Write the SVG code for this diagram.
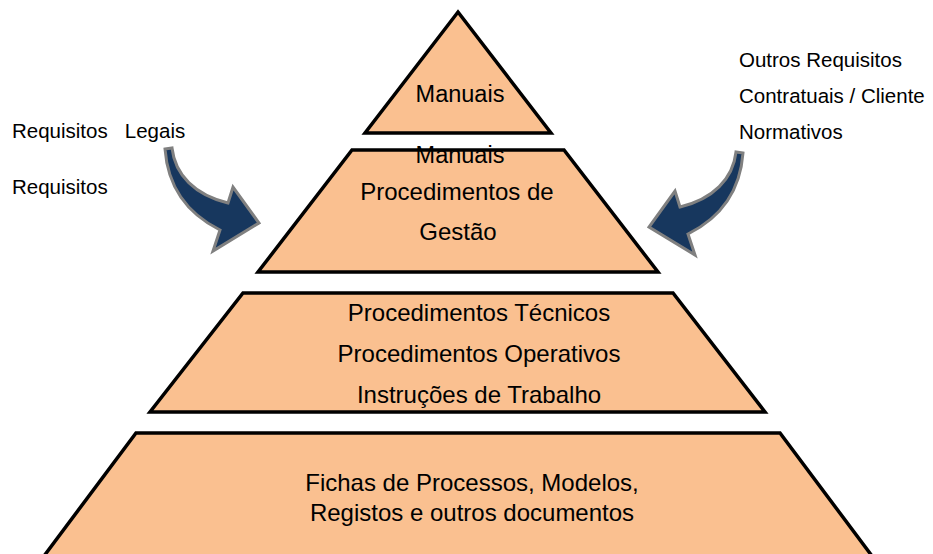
<svg xmlns="http://www.w3.org/2000/svg" width="933" height="554" viewBox="0 0 933 554">
<style>
.lvl{fill:#FAC090;stroke:#000;stroke-width:3.5;stroke-linejoin:miter}
.t{font-family:"Liberation Sans",Arial,sans-serif;fill:#000;text-anchor:middle;font-size:24px}
.s{font-family:"Liberation Sans",Arial,sans-serif;fill:#000;font-size:20.5px}
.arr{fill:#17375E;stroke:#808080;stroke-width:3;stroke-linejoin:miter}
</style>
<defs>
<path id="arrowShape" d="M 165,149 L 172,148 C 175,175 195,195 228,203 L 233,187 L 259,223 L 213,251 L 220,230 C 190,215 168,190 165,149 Z"/>
</defs>
<rect width="933" height="554" fill="#fff"/>
<g id="level1">
<polygon class="lvl" points="458,12 551,133 365,133"/>
<text class="t" x="460" y="102" style="font-size:23.5px">Manuais</text>
</g>
<g id="level2">
<polygon class="lvl" points="352,150 564,150 658,272 258,272"/>
<text class="t" x="460" y="163" style="font-size:23.5px">Manuais</text>
<text class="t" x="457" y="200">Procedimentos de</text>
<text class="t" x="458" y="240">Gestão</text>
</g>
<g id="level3">
<polygon class="lvl" points="243,293 673,293 765,412 150,412"/>
<text class="t" x="479" y="321">Procedimentos Técnicos</text>
<text class="t" x="479" y="362">Procedimentos Operativos</text>
<text class="t" x="479" y="403">Instruções de Trabalho</text>
</g>
<g id="level4">
<polygon class="lvl" points="136,433 780,433 872,556 44,556"/>
<text class="t" x="472" y="491">Fichas de Processos, Modelos,</text>
<text class="t" x="472" y="521">Registos e outros documentos</text>
</g>
<g id="labels-left">
<text class="s" x="12" y="138" xml:space="preserve">Requisitos   Legais</text>
<text class="s" x="12" y="194">Requisitos</text>
</g>
<g id="labels-right">
<text class="s" x="739" y="67">Outros Requisitos</text>
<text class="s" x="739" y="103">Contratuais / Cliente</text>
<text class="s" x="739" y="139">Normativos</text>
</g>
<g id="connectors">
<use href="#arrowShape" class="arr"/>
<use href="#arrowShape" class="arr" transform="translate(908,4) scale(-1,1)"/>
</g>
</svg>
